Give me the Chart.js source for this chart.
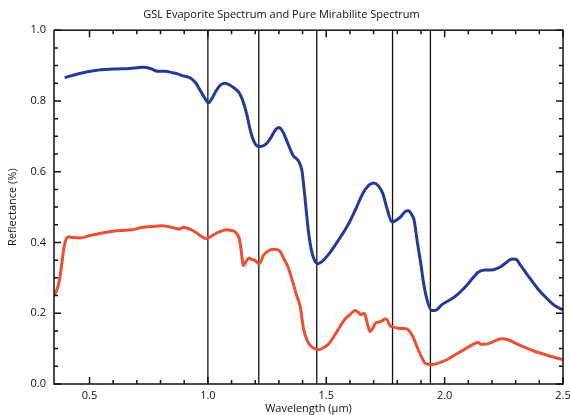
<!DOCTYPE html>
<html>
<head>
<meta charset="utf-8">
<script src="https://cdn.jsdelivr.net/npm/chart.js@4.4.1/dist/chart.umd.min.js"></script>
<style>
  html, body { margin: 0; padding: 0; background: #fff; }
  #wrap { width: 570px; height: 415px; }
</style>
</head>
<body>
<div id="wrap"><canvas id="spec" width="570" height="415"></canvas></div>
<script>
// GSL evaporite spectrum (blue)
const evapWl = [0.395, 0.45, 0.524, 0.6, 0.67, 0.725, 0.76, 0.786, 0.82, 0.849, 0.875, 0.895, 0.926, 0.95, 0.964, 0.985,
  1.003, 1.018, 1.035, 1.055, 1.073, 1.092, 1.112, 1.13, 1.142, 1.155, 1.166, 1.18, 1.195, 1.21, 1.223, 1.245, 1.265,
  1.285, 1.30, 1.315, 1.336, 1.36, 1.383, 1.397, 1.405, 1.414, 1.425, 1.437, 1.45, 1.465, 1.48, 1.514, 1.55, 1.592,
  1.625, 1.654, 1.68, 1.70, 1.72, 1.739, 1.755, 1.778, 1.80, 1.816, 1.835, 1.847, 1.86, 1.871, 1.885, 1.901, 1.909,
  1.925, 1.945, 1.96, 1.99, 2.04, 2.084, 2.12, 2.14, 2.17, 2.197, 2.22, 2.24, 2.26, 2.275, 2.29, 2.303, 2.32, 2.35,
  2.395, 2.43, 2.466, 2.5];
const evapRefl = [0.866, 0.876, 0.886, 0.890, 0.892, 0.895, 0.891, 0.884, 0.884, 0.880, 0.876, 0.871, 0.865, 0.850, 0.834, 0.810,
  0.795, 0.808, 0.829, 0.846, 0.850, 0.845, 0.836, 0.825, 0.810, 0.785, 0.757, 0.715, 0.685, 0.672, 0.671, 0.678, 0.695,
  0.718, 0.725, 0.715, 0.683, 0.646, 0.630, 0.604, 0.560, 0.500, 0.430, 0.379, 0.350, 0.340, 0.345, 0.370, 0.405, 0.450,
  0.495, 0.538, 0.562, 0.568, 0.560, 0.538, 0.500, 0.458, 0.465, 0.474, 0.488, 0.490, 0.480, 0.463, 0.400, 0.333, 0.294,
  0.240, 0.208, 0.208, 0.225, 0.245, 0.272, 0.300, 0.315, 0.322, 0.322, 0.326, 0.333, 0.343, 0.351, 0.353, 0.352, 0.336, 0.308,
  0.268, 0.243, 0.221, 0.210];

// pure mirabilite spectrum (red)
const mirabWl = [0.35, 0.36, 0.372, 0.382, 0.392, 0.402, 0.412, 0.43, 0.46, 0.50, 0.553, 0.60, 0.664, 0.69, 0.71, 0.76,
  0.803, 0.84, 0.88, 0.897, 0.91, 0.926, 0.95, 0.973, 0.994, 1.015, 1.035, 1.06, 1.08, 1.1, 1.113, 1.125, 1.134, 1.14,
  1.15, 1.16, 1.174, 1.185, 1.197, 1.217, 1.236, 1.26, 1.282, 1.305, 1.32, 1.337, 1.36, 1.375, 1.39, 1.405, 1.42, 1.437,
  1.468, 1.49, 1.514, 1.545, 1.576, 1.60, 1.623, 1.636, 1.646, 1.661, 1.672, 1.685, 1.697, 1.708, 1.722, 1.739, 1.748,
  1.755, 1.77, 1.79, 1.81, 1.83, 1.847, 1.865, 1.886, 1.90, 1.917, 1.94, 1.957, 1.985, 2.014, 2.05, 2.084, 2.12, 2.141,
  2.155, 2.168, 2.185, 2.197, 2.22, 2.24, 2.268, 2.30, 2.324, 2.36, 2.395, 2.44, 2.494, 2.5];
const mirabRefl = [0.25, 0.262, 0.29, 0.335, 0.385, 0.41, 0.416, 0.414, 0.413, 0.419, 0.427, 0.432, 0.435, 0.437, 0.441, 0.445,
  0.447, 0.444, 0.438, 0.443, 0.441, 0.437, 0.428, 0.417, 0.411, 0.418, 0.426, 0.433, 0.436, 0.434, 0.431, 0.422, 0.407, 0.38,
  0.335, 0.345, 0.356, 0.352, 0.350, 0.340, 0.365, 0.378, 0.381, 0.375, 0.355, 0.333, 0.285, 0.25, 0.219, 0.153, 0.122, 0.106,
  0.097, 0.103, 0.116, 0.148, 0.181, 0.196, 0.208, 0.202, 0.196, 0.200, 0.175, 0.148, 0.158, 0.172, 0.175, 0.180, 0.184,
  0.183, 0.164, 0.160, 0.157, 0.157, 0.153, 0.135, 0.101, 0.080, 0.059, 0.055, 0.056, 0.062, 0.070, 0.085, 0.098, 0.112, 0.117,
  0.112, 0.112, 0.114, 0.117, 0.124, 0.128, 0.125, 0.115, 0.108, 0.098, 0.089, 0.080, 0.070, 0.069];

// absorption band markers (µm)
const bandLines = [1.0, 1.215, 1.46, 1.78, 1.94];

const FONT = "'Open Sans', 'Noto Sans', sans-serif";

const toPoints = (xs, ys) => xs.map((x, i) => ({ x, y: ys[i] }));

const lineSets = bandLines.map(w => ({
  data: [{ x: w, y: 0 }, { x: w, y: 1 }],
  borderColor: '#111',
  borderWidth: 1.3,
  pointRadius: 0,
  order: 5
}));

// frame plus inward ticks on all four sides
const frameTicks = {
  id: 'frameTicks',
  afterDatasetsDraw(chart) {
    const { ctx, chartArea: a, scales: { x, y } } = chart;
    ctx.save();
    ctx.strokeStyle = '#111';
    ctx.lineWidth = 1.5;
    ctx.strokeRect(a.left, a.top, a.right - a.left, a.bottom - a.top);
    ctx.beginPath();
    x.ticks.forEach(t => {
      const v = t.value;
      if (Math.abs(v * 10 - Math.round(v * 10)) > 1e-6) return;
      const px = x.getPixelForValue(v);
      const len = Math.abs(v * 2 - Math.round(v * 2)) < 1e-6 ? 7 : 4;
      ctx.moveTo(px, a.bottom); ctx.lineTo(px, a.bottom - len);
      ctx.moveTo(px, a.top); ctx.lineTo(px, a.top + len);
    });
    y.ticks.forEach(t => {
      const v = t.value;
      const py = y.getPixelForValue(v);
      const len = Math.abs(v * 5 - Math.round(v * 5)) < 1e-6 ? 7 : 4;
      ctx.moveTo(a.left, py); ctx.lineTo(a.left + len, py);
      ctx.moveTo(a.right, py); ctx.lineTo(a.right - len, py);
    });
    ctx.stroke();
    ctx.restore();
  }
};

new Chart(document.getElementById('spec'), {
  type: 'line',
  data: {
    datasets: [
      {
        label: 'GSL Evaporite',
        data: toPoints(evapWl, evapRefl),
        borderColor: '#25399c',
        borderWidth: 3,
        pointRadius: 0,
        cubicInterpolationMode: 'monotone',
        order: 1
      },
      {
        label: 'Pure Mirabilite',
        data: toPoints(mirabWl, mirabRefl),
        borderColor: '#ea5034',
        borderWidth: 3,
        pointRadius: 0,
        cubicInterpolationMode: 'monotone',
        order: 2
      },
      ...lineSets
    ]
  },
  options: {
    responsive: false,
    animation: false,
    layout: { padding: { left: 0, right: 7, top: 0, bottom: 0 } },
    plugins: {
      legend: { display: false },
      tooltip: { enabled: false },
      title: {
        display: true,
        text: 'GSL Evaporite Spectrum and Pure Mirabilite Spectrum',
        color: '#111',
        font: { family: FONT, size: 11, weight: 'normal' },
        padding: { top: 8, bottom: 9 }
      }
    },
    scales: {
      x: {
        type: 'linear',
        min: 0.35,
        max: 2.5,
        grid: { display: false, drawTicks: false },
        border: { display: false },
        ticks: {
          stepSize: 0.1,
          autoSkip: false,
          maxRotation: 0,
          padding: 5,
          color: '#111',
          font: { family: FONT, size: 11 },
          callback: v => Math.abs(v * 2 - Math.round(v * 2)) < 1e-6 ? v.toFixed(1) : ''
        },
        title: {
          display: true,
          text: 'Wavelength (µm)',
          color: '#111',
          font: { family: FONT, size: 11 },
          padding: { top: 0, bottom: 0 }
        },
        afterFit: s => { s.height = 31; s.paddingRight = 0; s.paddingLeft = 0; }
      },
      y: {
        min: 0,
        max: 1,
        grid: { display: false, drawTicks: false },
        border: { display: false },
        ticks: {
          stepSize: 0.05,
          autoSkip: false,
          padding: 8,
          color: '#111',
          font: { family: FONT, size: 11 },
          callback: v => Math.abs(v * 5 - Math.round(v * 5)) < 1e-6 ? v.toFixed(1) : ''
        },
        title: {
          display: true,
          text: 'Reflectance (%)',
          color: '#111',
          font: { family: FONT, size: 11 },
          padding: { top: 6, bottom: 0 }
        },
        afterFit: s => { s.width = 54; s.paddingTop = 0; s.paddingBottom = 0; }
      }
    }
  },
  plugins: [frameTicks]
});
</script>
</body>
</html>
